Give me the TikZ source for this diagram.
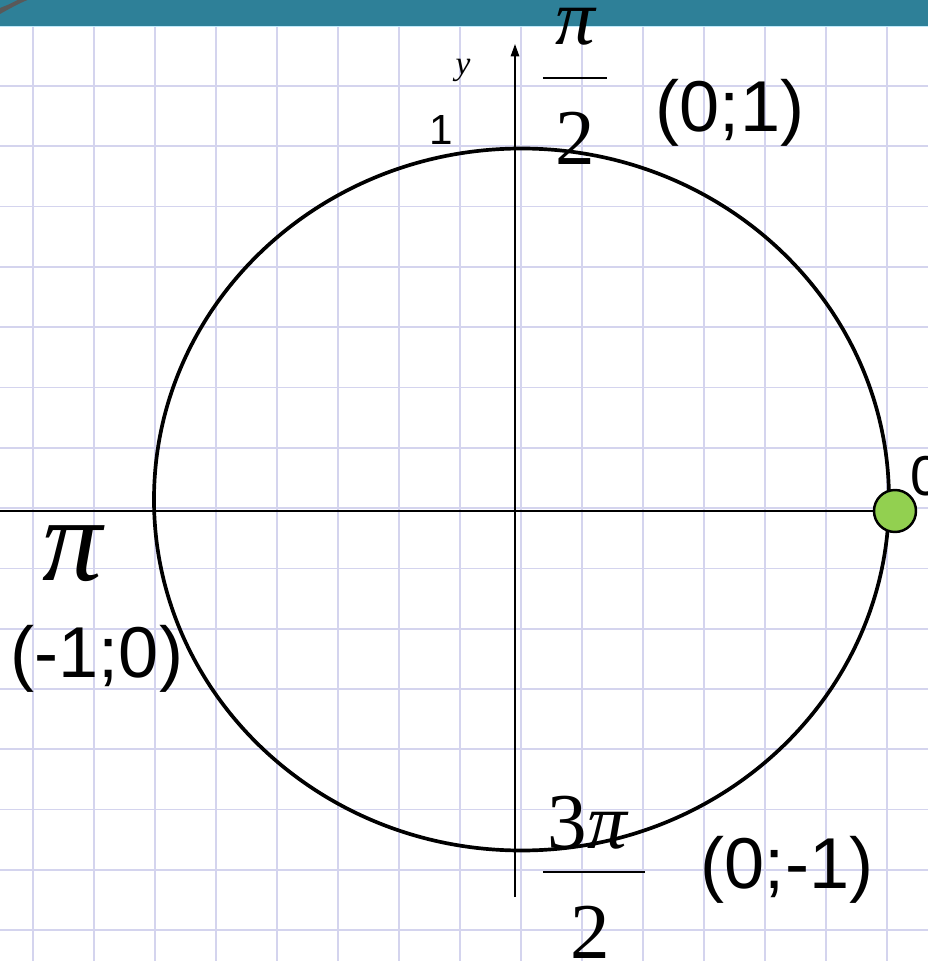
\documentclass[tikz,border=0pt]{standalone}
\usepackage{fontspec}
\setmainfont{Liberation Serif}
\newfontfamily\arialfont{Liberation Sans}
\usetikzlibrary{arrows.meta}
\definecolor{gridblue}{RGB}{212,212,238}
\definecolor{barteal}{RGB}{46,128,152}
\definecolor{dotgreen}{RGB}{146,208,80}

\begin{document}
\begin{tikzpicture}[
  gridline/.style={draw=gridblue, line width=1pt},
  axis/.style={line width=0.9pt},
  arrow/.style={axis, -{Triangle[length=0.25cm, width=0.17cm]}},
  unitcircle/.style={line width=2.1pt},
  coord/.style={font=\arialfont\fontsize{41}{41}\selectfont, anchor=base, inner sep=0pt},
  frac/.style={font=\itshape\fontsize{45}{45}\selectfont, anchor=base, inner sep=0pt},
  fracbar/.style={line width=1.4pt},
  point/.style={circle, draw=black, line width=1.4pt, fill=dotgreen, minimum size=0.84cm, inner sep=0pt}
]

\useasboundingbox (-10.3,-9.08) rectangle (8.26,10.14);
\fill[white] (-10.3,-9.08) rectangle (8.26,10.14);

\foreach \i in {0,...,15}
  \draw[gridline] ({-9.64+1.22*\i},-9.08) -- ({-9.64+1.22*\i},9.62);
\foreach \j in {-1,...,15}
  \draw[gridline] (-10.3,{8.42-1.206*\j}) -- (8.26,{8.42-1.206*\j});

\fill[barteal] (-10.3,9.62) rectangle (8.26,10.14);
\draw[cyan!25, line width=0.8pt] (-10.3,9.61) -- (8.26,9.61);
\fill[gray!70!black] (-10.3,9.86) .. controls (-10.05,10.0) and (-9.9,10.08) .. (-9.75,10.14) -- (-9.95,10.14) .. controls (-10.1,10.06) .. (-10.3,9.98) -- cycle;

\coordinate (west) at (-10.3,-0.08);
\coordinate (east) at (7.6,-0.08);
\coordinate (south) at (0,-7.8);
\coordinate (north) at (0,9.26);

\draw[axis] (west) -- (east);
\draw[arrow] (south) -- (north);
\draw[unitcircle] (0.13,0.15) ellipse [x radius=7.35, y radius=7.02];
\node (zero) [point] at (east) {};

\node (ylabel) [font=\itshape\fontsize{19}{19}\selectfont, anchor=base, inner sep=0pt] at (-1.04,8.64) {y};
\node (one) [font=\arialfont\fontsize{24}{24}\selectfont, anchor=base, inner sep=0pt] at (-1.48,7.24) {1};
\node (zerolabel) [font=\arialfont\fontsize{32}{32}\selectfont, anchor=base west, inner sep=0pt] at (7.9,0.24) {0};

\node (halfnum) [frac] at (1.2,9.24) {π};
\draw[fracbar] (0.56,8.58) -- (1.84,8.58);
\node (halfden) [frac, font=\upshape\fontsize{45}{45}\selectfont] at (1.2,6.84) {2};
\node (top) [coord] at (4.3,7.5) {(0;1)};

\node (pi) [frac, font=\itshape\fontsize{68}{68}\selectfont] at (-8.86,-1.46) {π};
\node (left) [coord] at (-8.36,-3.4) {(-1;0)};

\node (threenum) [frac, font=\fontsize{45}{45}\selectfont] at (1.46,-6.82) {3\textit{π}};
\draw[fracbar] (0.56,-7.3) -- (2.6,-7.3);
\node (threeden) [frac, font=\upshape\fontsize{45}{45}\selectfont] at (1.5,-9.02) {2};
\node (bottom) [coord] at (5.44,-7.62) {(0;-1)};

\end{tikzpicture}
\end{document}
